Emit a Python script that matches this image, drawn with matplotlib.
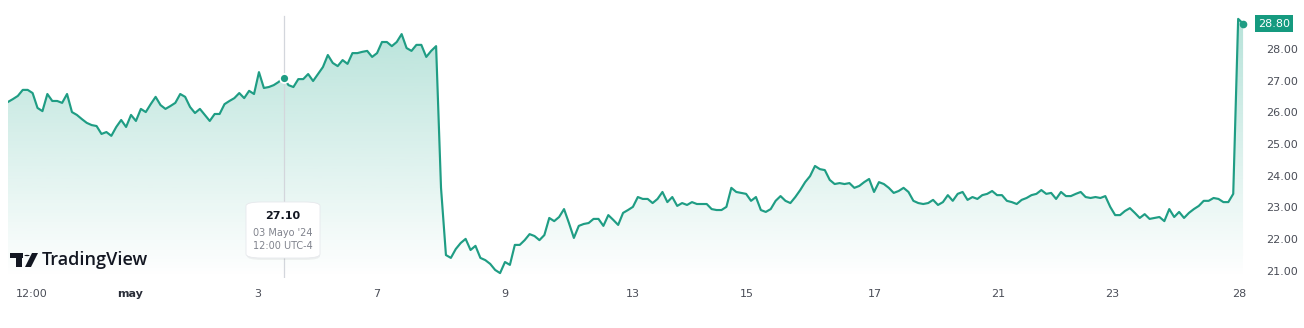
import numpy as np
import matplotlib
matplotlib.use('Agg')
import matplotlib.pyplot as plt
from matplotlib import transforms
from matplotlib.patches import FancyBboxPatch, Rectangle, Polygon, Circle

# price series (30 min bars)
apr30_may2 = [26.33, 26.42, 26.52, 26.71, 26.71, 26.61, 26.14, 26.04, 26.58, 26.36,
              26.36, 26.30, 26.58, 26.01, 25.92, 25.79, 25.67, 25.60, 25.57, 25.32,
              25.38, 25.26, 25.54, 25.76, 25.54, 25.92, 25.73, 26.11, 26.01, 26.26,
              26.49, 26.23, 26.11, 26.20, 26.30, 26.58, 26.49, 26.17, 25.98, 26.11,
              25.92, 25.73, 25.95, 25.95, 26.26, 26.36, 26.45, 26.61, 26.45, 26.68]
may3_may7 = [26.58, 27.27, 26.77, 26.80, 26.86, 26.96, 27.10, 26.86, 26.80, 27.05,
             27.05, 27.21, 26.99, 27.21, 27.43, 27.81, 27.56, 27.46, 27.65, 27.53,
             27.87, 27.87, 27.91, 27.94, 27.75, 27.87, 28.22, 28.22, 28.09, 28.22,
             28.47, 28.03, 27.94, 28.13, 28.13, 27.75, 27.94, 28.09]
may8_may10 = [23.62, 21.50, 21.41, 21.69, 21.88, 22.01, 21.66, 21.79, 21.41, 21.34,
              21.22, 21.03, 20.93, 21.28, 21.19, 21.82, 21.82, 21.97, 22.16, 22.10,
              21.97, 22.13, 22.67, 22.57, 22.70, 22.95, 22.51, 22.04, 22.42, 22.48,
              22.51, 22.64, 22.64, 22.42, 22.76, 22.61, 22.45, 22.83, 22.92, 23.02]
may13_may16 = [23.33, 23.27, 23.27, 23.14, 23.27, 23.49, 23.17, 23.33, 23.05, 23.14,
               23.08, 23.17, 23.11, 23.11, 23.11, 22.95, 22.92, 22.92, 23.02, 23.62,
               23.49, 23.46, 23.43, 23.21, 23.33, 22.92, 22.86, 22.95, 23.21, 23.36,
               23.21, 23.14, 23.33, 23.55, 23.80, 23.99, 24.31, 24.21, 24.18, 23.87,
               23.74, 23.77, 23.74, 23.77]
may17_may22 = [23.62, 23.68, 23.80, 23.90, 23.49, 23.80, 23.74, 23.62, 23.46, 23.52,
               23.62, 23.49, 23.21, 23.14, 23.11, 23.14, 23.24, 23.08, 23.17, 23.39,
               23.21, 23.43, 23.49, 23.24, 23.33, 23.27, 23.39, 23.43, 23.52, 23.39,
               23.39, 23.21, 23.17, 23.11, 23.24, 23.30, 23.39, 23.43, 23.55, 23.43,
               23.46, 23.27, 23.49, 23.36, 23.36, 23.43, 23.49, 23.33, 23.30, 23.33,
               23.30, 23.36]
may23_may28 = [23.02, 22.76, 22.76, 22.89, 22.98, 22.83, 22.67, 22.79, 22.64, 22.67,
               22.70, 22.57, 22.95, 22.70, 22.86, 22.67, 22.83, 22.95, 23.05, 23.21,
               23.21, 23.30, 23.27, 23.17, 23.17, 23.43, 28.95, 28.80]

prices = np.array(apr30_may2 + may3_may7 + may8_may10 + may13_may16 + may17_may22 + may23_may28)

tick_pos = [4.9, 24.8, 50.8, 75.0, 101.0, 127.0, 150.2, 176.2, 201.2, 224.4, 250.2]
tick_labels = ['12:00', 'may', '3', '7', '9', '13', '15', '17', '21', '23', '28']
y_ticks = [21, 22, 23, 24, 25, 26, 27, 28]

hover_idx = 56
hover_price = 27.10
last_price = 28.80

line_color = '#1f9d84'
label_color = '#4a4d57'

W, H = 1304, 328
fig = plt.figure(figsize=(W / 100, H / 100), dpi=100)
ax = fig.add_axes([8 / W, (H - 278) / H, 1240 / W, 270 / H])

x = np.arange(len(prices))
ax.set_xlim(0, 252)
ax.set_ylim(20.776, 29.293)
y0, y1 = ax.get_ylim()

# gradient area under the line
poly = ax.fill_between(x, prices, y0, color='none', lw=0)
grad = np.linspace(0.33, 0.0, 256).reshape(-1, 1)
rgba = np.zeros((256, 1, 4))
rgba[..., 0] = 34 / 255
rgba[..., 1] = 168 / 255
rgba[..., 2] = 140 / 255
rgba[..., 3] = grad
img = ax.imshow(rgba, extent=[0, 252, y0, 29.0], aspect='auto', origin='upper', zorder=1)
path = poly.get_paths()[0]
img.set_clip_path(path, transform=ax.transData)

ax.plot(x, prices, color=line_color, lw=1.55, zorder=3, solid_joinstyle='round')

# crosshair and hover point
ax.axvline(hover_idx, ymin=0, ymax=0.97, color='#d3d6dc', lw=0.9, zorder=2)
ax.plot(hover_idx, hover_price, 'o', ms=6.5, color=line_color, mec='white', mew=1.3, zorder=5)
ax.plot(x[-1], prices[-1], 'o', ms=4.5, color=line_color, zorder=5)

for s in ax.spines.values():
    s.set_visible(False)

ax.set_xticks(tick_pos)
ax.set_xticklabels(tick_labels)
ax.tick_params(axis='x', length=0, pad=8, labelsize=8, labelcolor=label_color)
for t in ax.get_xticklabels():
    if t.get_text() == 'may':
        t.set_fontweight('bold')
        t.set_color('#2a2e39')

ax.yaxis.tick_right()
ax.set_yticks(y_ticks)
ax.set_yticklabels(['%.2f' % v for v in y_ticks])
ax.tick_params(axis='y', length=0, pad=13, labelsize=8, labelcolor=label_color)
for t in ax.get_yticklabels():
    t.set_horizontalalignment('left')

# last price label
trans = transforms.blended_transform_factory(ax.transAxes, ax.transData)
ax.text((1258 - 8) / 1240, last_price, '%.2f' % last_price, transform=trans, ha='left', va='center',
        fontsize=8, color='white',
        bbox=dict(boxstyle='square,pad=0.3', fc='#159a7f', ec='none'))

# tooltip
ft = fig.transFigure
shadow = FancyBboxPatch((247 / W, (H - 260) / H), 73 / W, 56 / H,
                        boxstyle='round,pad=0,rounding_size=0.012', transform=ft,
                        fc='#000000', ec='none', alpha=0.05, zorder=9)
fig.patches.append(shadow)
box = FancyBboxPatch((246 / W, (H - 258) / H), 74 / W, 56 / H,
                     boxstyle='round,pad=0,rounding_size=0.012', transform=ft,
                     fc='white', ec='#e6e8ec', lw=0.6, zorder=10)
fig.patches.append(box)
fig.text(283 / W, (H - 216) / H, '%.2f' % hover_price, ha='center', va='center', fontsize=8,
         fontweight='bold', color='#131722', zorder=11)
fig.text(283 / W, (H - 233) / H, "03 Mayo '24", ha='center', va='center', fontsize=7,
         color='#80838d', zorder=11)
fig.text(283 / W, (H - 246) / H, '12:00 UTC-4', ha='center', va='center', fontsize=7,
         color='#80838d', zorder=11)

# TradingView watermark
logo_c = '#131722'
fig.patches.append(Rectangle((10 / W, (H - 258) / H), 13 / W, 5 / H, transform=ft, fc=logo_c, ec='none'))
fig.patches.append(Rectangle((16 / W, (H - 267) / H), 6 / W, 14 / H, transform=ft, fc=logo_c, ec='none'))
fig.patches.append(Circle((27 / W, (H - 255.5) / H), 2.6 / W, transform=ft, fc=logo_c, ec='none'))
fig.patches.append(Polygon([(32 / W, (H - 253) / H), (38 / W, (H - 253) / H),
                            (31 / W, (H - 267) / H), (25 / W, (H - 267) / H)],
                           closed=True, transform=ft, fc=logo_c, ec='none'))
fig.text(42 / W, (H - 260) / H, 'TradingView', ha='left', va='center', fontsize=13,
         fontweight='semibold', color=logo_c, family='Open Sans')

fig.savefig('out.png', dpi=100)
